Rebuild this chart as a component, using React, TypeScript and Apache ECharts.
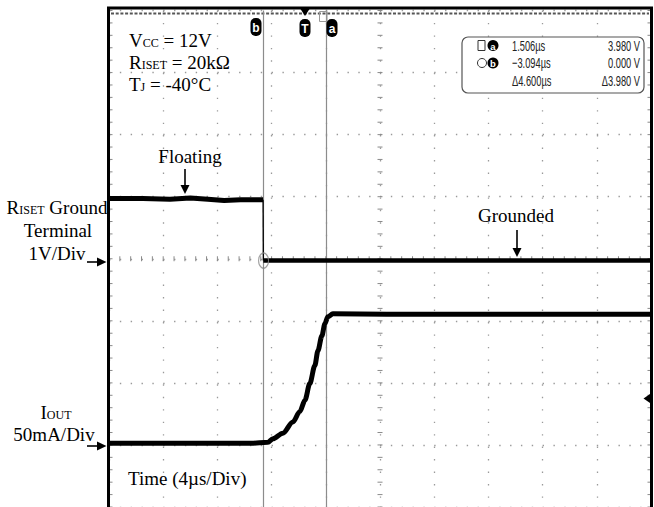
import React, { useEffect, useRef } from "react";
import * as echarts from "echarts";

// Channel 1: RISET ground terminal, volts (1 V/div); time in µs (4 µs/div)
const risetFloatingTime = [-14.5, -12.0, -10.0, -8.5, -7.2, -6.0, -4.8, -3.5, -3.13];
const risetFloatingVolts = [0.97, 0.97, 0.96, 0.98, 0.96, 0.94, 0.95, 0.95, 0.95];
const risetGroundedTime = [-3.11, 0, 10, 25.5];
const risetGroundedVolts = [-0.03, -0.03, -0.03, -0.03];

// Channel 2: IOUT, mA (50 mA/div)
const ioutTime = [-14.5, -8, -4, -2.77, -2.41, -1.67, -0.93, -0.41, -0.04, 0.32, 0.69, 0.92, 1.21, 1.43, 1.65, 2.02, 6, 12, 18, 25.5];
const ioutMilliamps = [1.3, 1.3, 1.3, 2.1, 5.0, 9.5, 18.5, 27.0, 36.0, 49.4, 63.9, 75.9, 87.9, 97.6, 103.2, 105.6, 105.2, 105.2, 105.2, 105.2];

// Cursors (µs): b, a
const cursorTimes = [-3.094, 1.506];
const readoutTimes = ["1.506µs", "−3.094µs", "Δ4.600µs"];
const readoutVolts = ["3.980 V", "0.000 V", "Δ3.980 V"];

const serif = "'Liberation Serif', 'Times New Roman', serif";
const sans = "'Liberation Sans', Arial, sans-serif";

const rich = {
  n: { fontSize: 19, fontFamily: serif, fill: "#000", verticalAlign: "bottom" },
  s: { fontSize: 12, fontFamily: serif, fill: "#000", verticalAlign: "bottom", padding: [0, 0, 1, 0] },
};

function label(x: number, y: number, text: string, align = "center") {
  return {
    type: "text",
    x,
    y,
    style: {
      text,
      rich,
      fontSize: 19,
      fontFamily: serif,
      fill: "#000",
      align,
      textAlign: align,
      verticalAlign: "middle",
      textVerticalAlign: "middle",
    },
    z: 50,
  };
}

function arrowDown(x: number, y1: number, y2: number) {
  return [
    { type: "line", shape: { x1: x, y1, x2: x, y2: y2 - 6 }, style: { stroke: "#000", lineWidth: 1.6 }, z: 50 },
    { type: "polygon", shape: { points: [[x - 4.5, y2 - 9], [x + 4.5, y2 - 9], [x, y2]] }, style: { fill: "#000" }, z: 50 },
  ];
}

function arrowRight(y: number) {
  return [
    { type: "line", shape: { x1: 87, y1: y, x2: 100, y2: y }, style: { stroke: "#000", lineWidth: 1.6 }, z: 50 },
    { type: "polygon", shape: { points: [[97, y - 4.5], [97, y + 4.5], [106.5, y]] }, style: { fill: "#000" }, z: 50 },
  ];
}

function pill(cx: number, cy: number, letter: string) {
  return [
    { type: "rect", shape: { x: cx - 5.5, y: cy - 9, width: 11, height: 18, r: 5 }, style: { fill: "#000" }, z: 60 },
    {
      type: "text",
      x: cx,
      y: cy + 0.5,
      style: { text: letter, fontSize: 12, fontWeight: "bold", fontFamily: sans, fill: "#fff", align: "center", textAlign: "center", verticalAlign: "middle", textVerticalAlign: "middle" },
      z: 61,
    },
  ];
}

function smallText(x: number, y: number, text: string, align: string) {
  return {
    type: "text",
    x,
    y,
    scaleX: 0.62,
    style: { text, fontSize: 15, fontFamily: sans, fill: "#222", align, textAlign: align, verticalAlign: "middle", textVerticalAlign: "middle" },
    z: 71,
  };
}

function circleLetter(cx: number, cy: number, letter: string) {
  return [
    { type: "circle", shape: { cx, cy, r: 5.5 }, style: { fill: "#000" }, z: 71 },
    {
      type: "text",
      x: cx,
      y: cy + 0.5,
      style: { text: letter, fontSize: 9.5, fontWeight: "bold", fontFamily: sans, fill: "#fff", align: "center", textAlign: "center", verticalAlign: "middle", textVerticalAlign: "middle" },
      z: 72,
    },
  ];
}

export default function App() {
  const ref = useRef<HTMLDivElement>(null);

  useEffect(() => {
    if (!ref.current) return;
    const chart = echarts.init(ref.current, null, { renderer: "svg" });

    const hidden = { show: false };
    const gridDot = (len: number) => ({
      show: true,
      lineStyle: { color: "#9a9a9a", width: 1.3, type: [1.4, len / 5 - 1.4] },
    });

    const option: any = {
      animation: false,
      backgroundColor: "#fff",
      grid: { left: 109, top: 10.5, width: 542, height: 498.4, containLabel: false },
      xAxis: [
        {
          type: "value", min: -5, max: 5, interval: 1,
          axisLine: hidden, axisTick: hidden, axisLabel: hidden,
          splitLine: gridDot(62.3),
        },
        { type: "value", min: -14.5, max: 25.5, show: false, splitLine: hidden },
      ],
      yAxis: [
        {
          type: "value", min: -4, max: 4, interval: 1,
          axisLine: hidden, axisTick: hidden, axisLabel: hidden,
          splitLine: gridDot(54.2),
        },
        { type: "value", min: -4, max: 4, show: false, splitLine: hidden },
        { type: "value", min: -50, max: 350, show: false, splitLine: hidden },
      ],
      series: [
        {
          type: "custom",
          name: "graticule",
          xAxisIndex: 0,
          yAxisIndex: 0,
          silent: true,
          data: [[0, 0]],
          renderItem: (_p: any, api: any) => {
            const children: any[] = [];
            const stroke = "#8a8a8a";
            for (let i = 0; i <= 50; i++) {
              const [px, py] = api.coord([-5 + i * 0.2, 0]);
              children.push({ type: "line", shape: { x1: px, y1: py - 2.5, x2: px, y2: py + 2.5 }, style: { stroke, lineWidth: 1 } });
            }
            for (let j = 0; j <= 40; j++) {
              const [px, py] = api.coord([0, -4 + j * 0.2]);
              children.push({ type: "line", shape: { x1: px - 2.5, y1: py, x2: px + 2.5, y2: py }, style: { stroke, lineWidth: 1 } });
              const [lx, ly] = api.coord([-5, -4 + j * 0.2]);
              children.push({ type: "line", shape: { x1: lx, y1: ly, x2: lx + 3.5, y2: ly }, style: { stroke, lineWidth: 1 } });
              const [rx, ry] = api.coord([5, -4 + j * 0.2]);
              children.push({ type: "line", shape: { x1: rx - 3.5, y1: ry, x2: rx, y2: ry }, style: { stroke, lineWidth: 1 } });
            }
            const [tlx, tly] = api.coord([-5, 4]);
            const [trx] = api.coord([5, 4]);
            children.push({ type: "line", shape: { x1: tlx + 2, y1: tly + 3, x2: trx - 2, y2: tly + 3 }, style: { stroke: "#555", lineWidth: 1.8, lineDash: [3, 1.7] } });
            return { type: "group", children };
          },
          z: 1,
        },
        {
          type: "line",
          name: "RISET floating",
          xAxisIndex: 1,
          yAxisIndex: 1,
          data: risetFloatingTime.map((t, i) => [t, risetFloatingVolts[i]]),
          showSymbol: false,
          lineStyle: { color: "#000", width: 5 },
          z: 5,
        },
        {
          type: "line",
          name: "RISET drop",
          xAxisIndex: 1,
          yAxisIndex: 1,
          data: [
            [risetFloatingTime[risetFloatingTime.length - 1], risetFloatingVolts[risetFloatingVolts.length - 1]],
            [risetGroundedTime[0], risetGroundedVolts[0]],
          ],
          showSymbol: false,
          lineStyle: { color: "#000", width: 1.3 },
          z: 5,
        },
        {
          type: "line",
          name: "RISET grounded",
          xAxisIndex: 1,
          yAxisIndex: 1,
          data: risetGroundedTime.map((t, i) => [t, risetGroundedVolts[i]]),
          showSymbol: false,
          lineStyle: { color: "#000", width: 4.5 },
          z: 5,
        },
        {
          type: "line",
          name: "IOUT",
          xAxisIndex: 1,
          yAxisIndex: 2,
          data: ioutTime.map((t, i) => [t, ioutMilliamps[i]]),
          showSymbol: false,
          smooth: 0.3,
          smoothMonotone: "x",
          lineStyle: { color: "#000", width: 5, join: "round" },
          markLine: {
            silent: true,
            symbol: "none",
            label: { show: false },
            lineStyle: { color: "#8c8c8c", width: 1.2, type: "solid" },
            data: cursorTimes.map((t) => ({ xAxis: t })),
          },
          z: 5,
        },
        {
          type: "scatter",
          name: "cursor b marker",
          xAxisIndex: 1,
          yAxisIndex: 1,
          data: [[cursorTimes[0], risetGroundedVolts[0]]],
          symbol: "circle",
          symbolSize: [10, 15],
          itemStyle: { color: "none", borderColor: "#888", borderWidth: 1.3 },
          z: 6,
        },
      ],
      graphic: [
        // frame
        { type: "line", shape: { x1: 107, y1: 8, x2: 653, y2: 8 }, style: { stroke: "#000", lineWidth: 3 }, z: 40 },
        { type: "line", shape: { x1: 108.5, y1: 7, x2: 108.5, y2: 507 }, style: { stroke: "#000", lineWidth: 3 }, z: 40 },
        { type: "line", shape: { x1: 651.5, y1: 7, x2: 651.5, y2: 507 }, style: { stroke: "#000", lineWidth: 3 }, z: 40 },
        // top markers
        ...pill(256, 27, "b"),
        ...pill(305, 28, "T"),
        { type: "polygon", shape: { points: [[300.5, 9], [309.5, 9], [305, 16]] }, style: { fill: "#000" }, z: 60 },
        { type: "rect", shape: { x: 319.5, y: 11.5, width: 7.5, height: 10 }, style: { fill: "none", stroke: "#999", lineWidth: 1 }, z: 60 },
        ...pill(332, 28, "a"),
        // right-side marker
        { type: "polygon", shape: { points: [[643.5, 398.5], [650, 394], [650, 403]] }, style: { fill: "#000" }, z: 60 },
        // readout box
        { type: "rect", shape: { x: 462, y: 37, width: 182, height: 56, r: 6 }, style: { fill: "#fff", stroke: "#555", lineWidth: 1.2 }, z: 70 },
        { type: "rect", shape: { x: 478, y: 40.5, width: 7, height: 10 }, style: { fill: "none", stroke: "#333", lineWidth: 1 }, z: 71 },
        ...circleLetter(493, 45.5, "a"),
        { type: "circle", shape: { cx: 482, cy: 63, r: 4.5 }, style: { fill: "none", stroke: "#333", lineWidth: 1 }, z: 71 },
        ...circleLetter(493, 63, "b"),
        ...readoutTimes.map((t, i) => smallText(512, 46 + i * 17.5, t, "left")),
        ...readoutVolts.map((v, i) => smallText(640, 46 + i * 17.5, v, "right")),
        // annotations
        label(129, 40, "{n|V}{s|CC}{n| = 12V}", "left"),
        label(129, 62, "{n|R}{s|ISET}{n| = 20kΩ}", "left"),
        label(129, 84, "{n|T}{s|J}{n| = -40°C}", "left"),
        label(190, 156, "{n|Floating}"),
        ...arrowDown(185, 169, 194),
        label(516, 215, "{n|Grounded}"),
        ...arrowDown(517, 230, 257),
        label(57, 207, "{n|R}{s|ISET}{n| Ground}"),
        label(58, 230, "{n|Terminal}"),
        label(57, 253, "{n|1V/Div}"),
        ...arrowRight(262),
        label(56, 412, "{n|I}{s|OUT}"),
        label(54, 434, "{n|50mA/Div}"),
        ...arrowRight(446),
        label(128, 478, "{n|Time (4µs/Div)}", "left"),
      ],
    };

    chart.setOption(option);
    return () => chart.dispose();
  }, []);

  return (
    <div
      ref={ref}
      style={{ position: "absolute", left: 0, top: 0, width: 654, height: 507, background: "#fff" }}
    />
  );
}
